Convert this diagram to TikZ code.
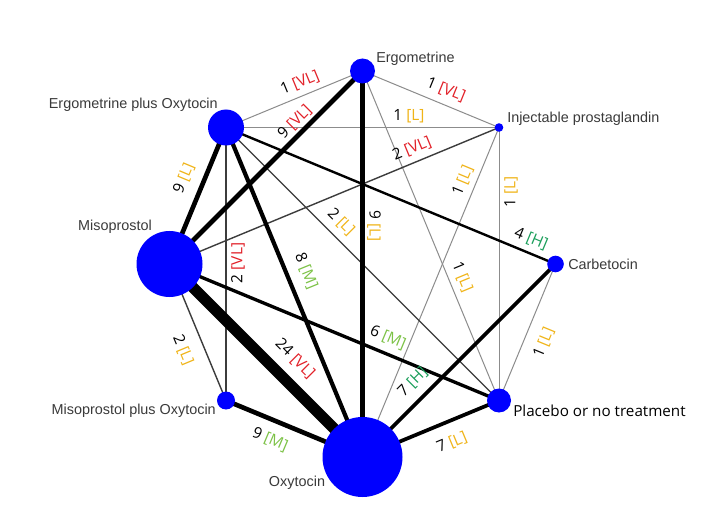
\documentclass[tikz,border=0pt]{standalone}
\usepackage{fontspec}
\setmainfont{Liberation Sans}
\newfontfamily\labfont{Open Sans}
\usetikzlibrary{backgrounds}
\definecolor{nodeblue}{RGB}{0,0,255}
\definecolor{cVL}{RGB}{226,32,40}
\definecolor{cL}{RGB}{240,180,24}
\definecolor{cM}{RGB}{124,194,70}
\definecolor{cH}{RGB}{26,158,90}
\definecolor{txtgray}{RGB}{58,58,58}
\definecolor{gone}{RGB}{140,140,140}
\definecolor{gtwo}{RGB}{60,60,60}
\begin{document}
\begin{tikzpicture}[x=0.75pt,y=-0.75pt,
  trt/.style={circle, fill=nodeblue, draw=none, inner sep=0pt, minimum size=#1*1.5pt},
  nm/.style={font=\fontsize{10.8}{12}\selectfont, text=txtgray, inner sep=0pt},
  elab/.style={font=\labfont\fontsize{11.6}{13}\selectfont, inner sep=0pt},
  wone/.style={draw=gone, line width=0.75pt},
  wtwo/.style={draw=gtwo, line width=1.05pt},
  wk/.style={draw=black, line width=#1}
]
\useasboundingbox (0,0) rectangle (726,528);

% treatment nodes (regular octagon)
\node[trt=12.5] (ergo)    at (362.5,71)   {};
\node[trt=4.3]  (inj)     at (499,127.5)  {};
\node[trt=8.3]  (carb)    at (555.5,264)  {};
\node[trt=12]   (plac)    at (499,400.5)  {};
\node[trt=40]   (oxy)     at (362.5,457)  {};
\node[trt=9]    (misooxy) at (226,400.5)  {};
\node[trt=33]   (miso)    at (169.5,264)  {};
\node[trt=18]   (ergooxy) at (226,127.5)  {};

\begin{scope}[on background layer]
\fill[white] (0,0) rectangle (726,528);
% thin (1 study)
\draw[wone] (ergooxy.center) -- (ergo.center);
\draw[wone] (ergo.center) -- (inj.center);
\draw[wone] (ergooxy.center) -- (inj.center);
\draw[wone] (ergo.center) -- (plac.center);
\draw[wone] (oxy.center) -- (inj.center);
\draw[wone] (inj.center) -- (plac.center);
\draw[wone] (carb.center) -- (plac.center);
% 2 studies
\draw[wtwo] (miso.center) -- (inj.center);
\draw[wtwo] (ergooxy.center) -- (plac.center);
\draw[wtwo] (ergooxy.center) -- (misooxy.center);
\draw[wtwo] (miso.center) -- (misooxy.center);
% thick
\draw[wk=1.8pt] (ergooxy.center) -- (carb.center);
\draw[wk=2.5pt] (miso.center) -- (plac.center);
\draw[wk=2.8pt] (oxy.center) -- (carb.center);
\draw[wk=2.8pt] (oxy.center) -- (plac.center);
\draw[wk=3.15pt] (ergooxy.center) -- (oxy.center);
\draw[wk=3.5pt] (miso.center) -- (ergo.center);
\draw[wk=3.5pt] (ergo.center) -- (oxy.center);
\draw[wk=3.5pt] (miso.center) -- (ergooxy.center);
\draw[wk=3.5pt] (misooxy.center) -- (oxy.center);
\draw[wk=8.4pt] (miso.center) -- (oxy.center);
\end{scope}

% treatment names
\node[nm, anchor=west] (tergo) at (376,59) {Ergometrine};
\node[nm, anchor=east] (tergooxy) at (218,105) {Ergometrine plus Oxytocin};
\node[nm, anchor=west] (tinj) at (507,119) {Injectable prostaglandin};
\node[nm, anchor=east] (tmiso) at (152,227) {Misoprostol};
\node[nm, anchor=west] (tcarb) at (568,264) {Carbetocin};
\node[nm, anchor=east] (tmisooxy) at (216,411) {Misoprostol plus Oxytocin};
\node[nm] (toxy) at (297,483) {Oxytocin};
\node[elab, anchor=west, font=\labfont\fontsize{11.4}{13}\selectfont] (tplac) at (513,411) {Placebo or no treatment};

% edge labels
\node[elab, rotate=22.5]  (l1)  at (300,83)  {1 \textcolor{cVL}{[VL]}};
\node[elab, rotate=-22.2] (l2)  at (446,90)  {1 \textcolor{cVL}{[VL]}};
\node[elab]               (l3)  at (409,116) {1 \textcolor{cL}{[L]}};
\node[elab, rotate=45]    (l4)  at (295,122) {9 \textcolor{cVL}{[VL]}};
\node[elab, rotate=22.5]  (l5)  at (412,149) {2 \textcolor{cVL}{[VL]}};
\node[elab, rotate=-90]   (l6)  at (374,226) {9 \textcolor{cL}{[L]}};
\node[elab, rotate=-45]   (l7)  at (341,222) {2 \textcolor{cL}{[L]}};
\node[elab, rotate=-67.7] (l8)  at (306,271) {8 \textcolor{cM}{[M]}};
\node[elab, rotate=90]    (l9)  at (238,263) {2 \textcolor{cVL}{[VL]}};
\node[elab, rotate=67.3]  (l10) at (184,178) {9 \textcolor{cL}{[L]}};
\node[elab, rotate=-67.4] (l11) at (183,350) {2 \textcolor{cL}{[L]}};
\node[elab, rotate=-45]   (l12) at (295,359) {24 \textcolor{cVL}{[VL]}};
\node[elab, rotate=-22.9] (l13) at (270,440) {9 \textcolor{cM}{[M]}};
\node[elab, rotate=-22.6] (l14) at (388,338) {6 \textcolor{cM}{[M]}};
\node[elab, rotate=45]    (l15) at (413,382) {7 \textcolor{cH}{[H]}};
\node[elab, rotate=22.6]  (l16) at (452,443) {7 \textcolor{cL}{[L]}};
\node[elab, rotate=67.6]  (l17) at (544,343) {1 \textcolor{cL}{[L]}};
\node[elab, rotate=-22.7] (l18) at (531,239) {4 \textcolor{cH}{[H]}};
\node[elab, rotate=90]    (l19) at (511,192) {1 \textcolor{cL}{[L]}};
\node[elab, rotate=67.5]  (l20) at (463,181) {1 \textcolor{cL}{[L]}};
\node[elab, rotate=-67.4] (l21) at (462,277) {1 \textcolor{cL}{[L]}};
\end{tikzpicture}
\end{document}
